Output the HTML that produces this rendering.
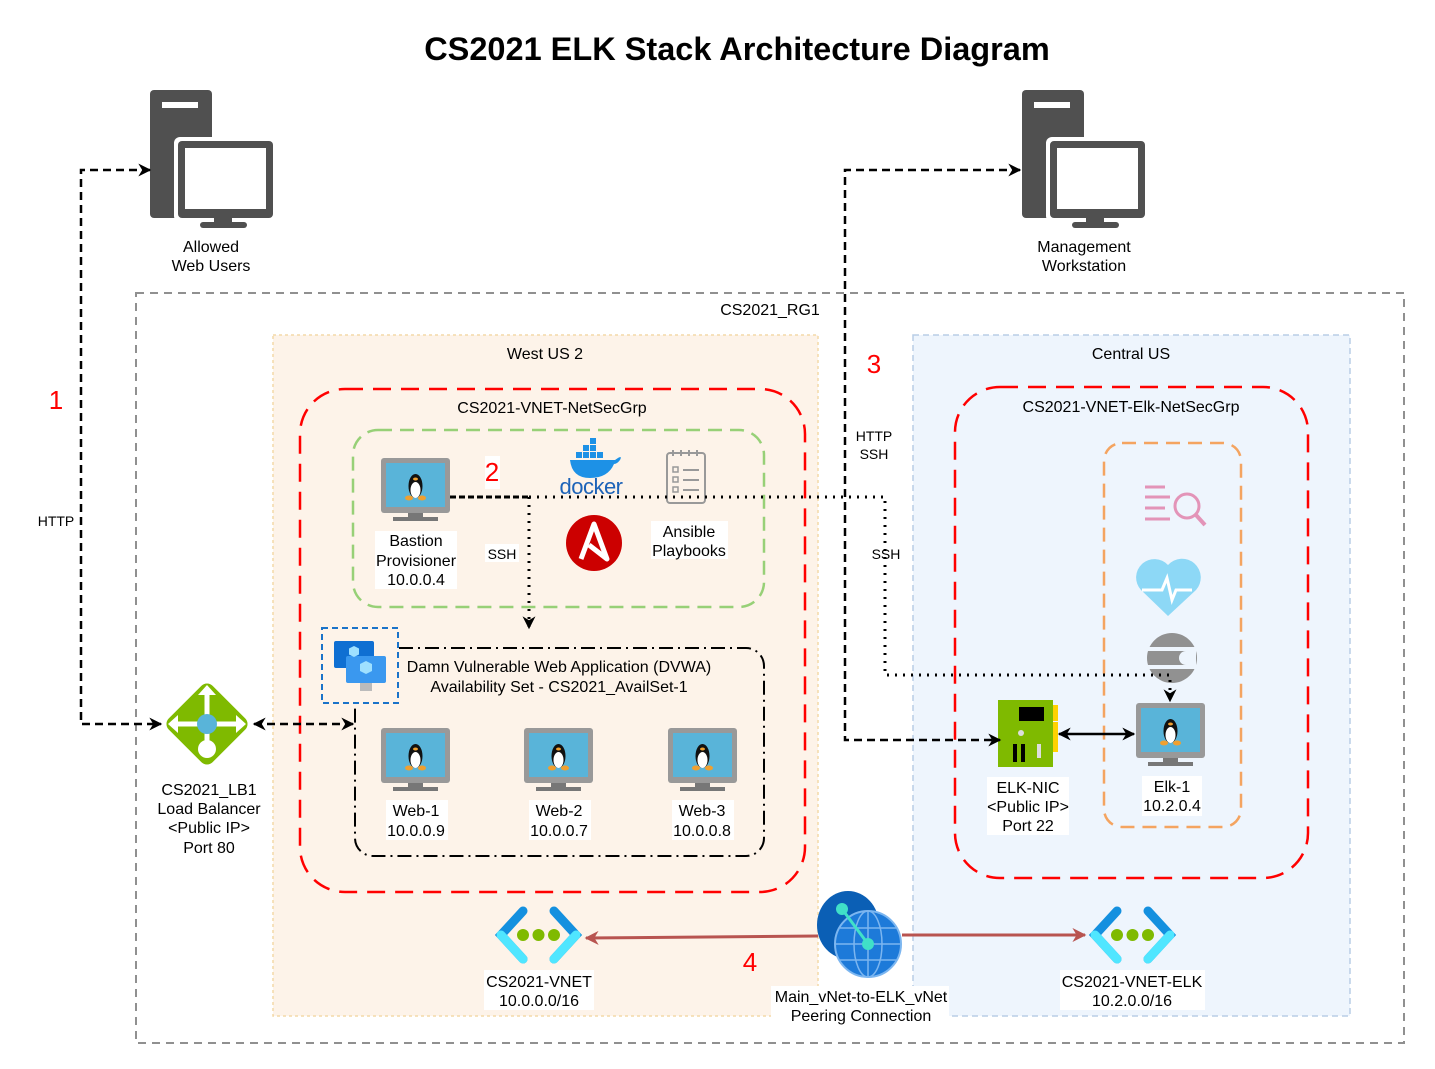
<!DOCTYPE html>
<html><head><meta charset="utf-8"><style>
html,body{margin:0;padding:0;background:#fff;}
svg{display:block;}
text{font-family:"Liberation Sans",Arial,sans-serif;font-size:16px;fill:#000;}
</style></head><body>
<svg width="1435" height="1069" viewBox="0 0 1435 1069" xmlns="http://www.w3.org/2000/svg">
<defs>
<marker id="ah" viewBox="0 0 10 10" refX="9" refY="5" markerWidth="13" markerHeight="13" orient="auto-start-reverse" markerUnits="userSpaceOnUse"><path d="M0,0 L10,5 L0,10 L3,5z" fill="#000"/></marker>
<marker id="ahr" viewBox="0 0 10 10" refX="9" refY="5" markerWidth="14" markerHeight="14" orient="auto" markerUnits="userSpaceOnUse"><path d="M0,0 L10,5 L0,10 L3,5z" fill="#b85450"/></marker>
<g id="server">
<rect x="0" y="0" width="62" height="128" rx="4" fill="#505050"/>
<rect x="12" y="12" width="36" height="6" fill="#fff"/>
<rect x="24" y="47" width="101" height="85" rx="6" fill="#fff"/>
<rect x="28" y="51" width="95" height="77" rx="4" fill="#505050"/>
<rect x="35" y="58" width="81" height="61" fill="#fff"/>
<rect x="64" y="128" width="18" height="8" fill="#505050"/>
<rect x="50" y="132" width="47" height="6" rx="3" fill="#505050"/>
</g>
<g id="lin">
<rect x="0" y="0" width="69" height="55" rx="3" fill="#999"/>
<rect x="5" y="5" width="59" height="44" fill="#59b4d9"/>
<rect x="27" y="55" width="15" height="5" fill="#777"/>
<rect x="12" y="59" width="45" height="4" fill="#777"/>
<ellipse cx="34.5" cy="28" rx="7" ry="12" fill="#111"/>
<ellipse cx="34.5" cy="32" rx="5" ry="8" fill="#fff"/>
<ellipse cx="34.5" cy="21" rx="2.5" ry="1.5" fill="#f0a030"/>
<ellipse cx="28" cy="40" rx="4" ry="2.5" fill="#f0a030"/>
<ellipse cx="41" cy="40" rx="4" ry="2.5" fill="#f0a030"/>
</g>
<g id="vnet">
<path d="M30,4 L8,28 L30,52" stroke="#1490df" stroke-width="9" fill="none" stroke-linecap="round"/>
<path d="M8,28 L30,52" stroke="#50e6ff" stroke-width="9" fill="none" stroke-linecap="round"/>
<path d="M61,4 L83,28 L61,52" stroke="#1490df" stroke-width="9" fill="none" stroke-linecap="round"/>
<path d="M83,28 L61,52" stroke="#50e6ff" stroke-width="9" fill="none" stroke-linecap="round"/>
<circle cx="30" cy="28" r="6" fill="#7fba00"/><circle cx="45.5" cy="28" r="6" fill="#7fba00"/><circle cx="61" cy="28" r="6" fill="#7fba00"/>
</g>
</defs>

<text x="737" y="60" text-anchor="middle" style="font-size:32.5px;font-weight:bold">CS2021 ELK Stack Architecture Diagram</text>

<use href="#server" x="150" y="90"/>
<use href="#server" x="1022" y="90"/>
<text x="211" y="252" text-anchor="middle">Allowed</text>
<text x="211" y="271" text-anchor="middle">Web Users</text>
<text x="1084" y="252" text-anchor="middle">Management</text>
<text x="1084" y="271" text-anchor="middle">Workstation</text>

<rect x="136" y="293" width="1268" height="750" fill="none" stroke="#909090" stroke-width="2" stroke-dasharray="8,6"/>
<text x="770" y="315" text-anchor="middle">CS2021_RG1</text>

<rect x="273" y="335" width="545" height="681" fill="#fdf3e9" stroke="#f4d9a8" stroke-width="1.5" stroke-dasharray="3,3"/>
<text x="545" y="359" text-anchor="middle">West US 2</text>
<rect x="913" y="335" width="437" height="681" fill="#eef5fd" stroke="#b8cde6" stroke-width="1.5" stroke-dasharray="6,4"/>
<text x="1131" y="359" text-anchor="middle">Central US</text>

<rect x="300" y="389" width="505" height="503" rx="45" fill="none" stroke="#f00" stroke-width="2.5" stroke-dasharray="18,10"/>
<text x="552" y="413" text-anchor="middle">CS2021-VNET-NetSecGrp</text>
<rect x="955" y="387" width="353" height="491" rx="45" fill="none" stroke="#f00" stroke-width="2.5" stroke-dasharray="18,10"/>
<text x="1131" y="412" text-anchor="middle">CS2021-VNET-Elk-NetSecGrp</text>

<rect x="353" y="430" width="411" height="177" rx="25" fill="none" stroke="#97d077" stroke-width="2.5" stroke-dasharray="14,8"/>
<rect x="1104" y="443" width="137" height="384" rx="18" fill="none" stroke="#f4a460" stroke-width="2.5" stroke-dasharray="14,8"/>
<rect x="355" y="648" width="409" height="208" rx="18" fill="none" stroke="#000" stroke-width="2" stroke-dasharray="14,5,2,5"/>
<rect x="322" y="628" width="76" height="75" fill="#fdf3e9" stroke="#1a73c9" stroke-width="2" stroke-dasharray="6,4"/>
<rect x="334" y="641" width="40" height="27" rx="2" fill="#0f6fd2"/>
<rect x="346" y="656" width="40" height="27" rx="2" fill="#3a98ef"/>
<rect x="360" y="683" width="12" height="8" fill="#bbb"/>
<path d="M366,661 l6,3 v7 l-6,3 l-6,-3 v-7z" fill="#9ee0ff"/>
<path d="M354,646 l5,2.5 v6 l-5,2.5 l-5,-2.5 v-6z" fill="#9ee0ff"/>

<text x="559" y="672" text-anchor="middle">Damn Vulnerable Web Application (DVWA)</text>
<text x="559" y="692" text-anchor="middle">Availability Set - CS2021_AvailSet-1</text>

<use href="#lin" x="381" y="458"/>
<rect x="375" y="531" width="82" height="58" fill="#fff"/>
<text x="416" y="546" text-anchor="middle">Bastion</text>
<text x="416" y="566" text-anchor="middle">Provisioner</text>
<text x="416" y="585" text-anchor="middle">10.0.0.4</text>
<rect x="485" y="456" width="15" height="33" fill="#fff"/>
<text x="492" y="481" text-anchor="middle" style="font-size:26px;fill:#f00">2</text>

<g fill="#1d91e6">
<path d="M570,460 h45 q8,-6 5,0 q-3,4 -6,4 q-6,14 -24,14 q-18,0 -20,-18z"/>
<rect x="576" y="452" width="6" height="6"/><rect x="583" y="452" width="6" height="6"/><rect x="590" y="452" width="6" height="6"/><rect x="597" y="452" width="6" height="6"/>
<rect x="583" y="445" width="6" height="6"/><rect x="590" y="445" width="6" height="6"/><rect x="590" y="438" width="6" height="6"/>
</g>
<text x="591" y="494" text-anchor="middle" style="font-size:22px;fill:#1d63b8;letter-spacing:-0.5px">docker</text>
<rect x="667" y="453" width="38" height="50" rx="3" fill="none" stroke="#999" stroke-width="2"/>
<g stroke="#999" stroke-width="2"><line x1="673" y1="450" x2="673" y2="456"/><line x1="681" y1="450" x2="681" y2="456"/><line x1="689" y1="450" x2="689" y2="456"/><line x1="697" y1="450" x2="697" y2="456"/>
<line x1="683" y1="470" x2="699" y2="470"/><line x1="683" y1="480" x2="699" y2="480"/><line x1="683" y1="490" x2="699" y2="490"/></g>
<g fill="none" stroke="#999" stroke-width="1.5"><rect x="673" y="467" width="5" height="5"/><rect x="673" y="477" width="5" height="5"/><rect x="673" y="487" width="5" height="5"/></g>
<circle cx="594" cy="543" r="28" fill="#cc0000"/>
<path d="M581,559 L594,524 L607,559 L589,545" fill="none" stroke="#fff" stroke-width="5" stroke-linejoin="round"/>
<rect x="651" y="521" width="77" height="38" fill="#fff"/>
<text x="689" y="537" text-anchor="middle">Ansible</text>
<text x="689" y="556" text-anchor="middle">Playbooks</text>

<use href="#lin" x="381" y="728"/><use href="#lin" x="524" y="728"/><use href="#lin" x="668" y="728"/>
<rect x="386" y="800" width="62" height="40" fill="#fff"/><text x="416" y="816" text-anchor="middle">Web-1</text><text x="416" y="836" text-anchor="middle">10.0.0.9</text>
<rect x="529" y="800" width="62" height="40" fill="#fff"/><text x="559" y="816" text-anchor="middle">Web-2</text><text x="559" y="836" text-anchor="middle">10.0.0.7</text>
<rect x="672" y="800" width="62" height="40" fill="#fff"/><text x="702" y="816" text-anchor="middle">Web-3</text><text x="702" y="836" text-anchor="middle">10.0.0.8</text>

<rect x="176" y="693" width="62" height="62" rx="8" fill="#7fba00" transform="rotate(45 207 724)"/>
<g stroke="#fff" stroke-width="5" fill="none"><line x1="174" y1="724" x2="240" y2="724"/><line x1="207" y1="690" x2="207" y2="745"/></g>
<g fill="#fff"><path d="M168,724 l10,-9 v18z"/><path d="M246,724 l-10,-9 v18z"/><path d="M207,685 l-9,10 h18z"/><circle cx="207" cy="749" r="9"/></g>
<circle cx="207" cy="724" r="10" fill="#59b4d9"/>
<text x="209" y="795" text-anchor="middle">CS2021_LB1</text>
<text x="209" y="814" text-anchor="middle">Load Balancer</text>
<text x="209" y="833" text-anchor="middle">&lt;Public IP&gt;</text>
<text x="209" y="853" text-anchor="middle">Port 80</text>

<g stroke="#e394b8" stroke-width="3" fill="none"><line x1="1145" y1="487" x2="1165" y2="487"/><line x1="1145" y1="497" x2="1170" y2="497"/><line x1="1145" y1="508" x2="1165" y2="508"/><line x1="1145" y1="519" x2="1170" y2="519"/><circle cx="1187" cy="506" r="12"/><line x1="1196" y1="515" x2="1205" y2="525" stroke-width="4"/></g>
<path d="M1168,616 L1141,590 A15,15 0 0 1 1168,565 A15,15 0 0 1 1196,590z" fill="#8dd8f6"/>
<path d="M1142,590 h20 l5,-12 l5,22 l4,-10 h16" stroke="#fff" stroke-width="3" fill="none"/>
<circle cx="1172" cy="658" r="25" fill="#919191"/>
<g stroke="#eef5fd" stroke-width="4"><line x1="1145" y1="649" x2="1200" y2="649"/><line x1="1145" y1="667" x2="1200" y2="667"/></g>
<path d="M1196,651 h-10 a7,7 0 0 0 0,14 h10z" fill="#eef5fd"/>
<use href="#lin" x="1136" y="703"/>
<rect x="1142" y="776" width="60" height="40" fill="#fff"/>
<text x="1172" y="792" text-anchor="middle">Elk-1</text><text x="1172" y="811" text-anchor="middle">10.2.0.4</text>
<rect x="998" y="700" width="55" height="67" fill="#7fba00"/>
<rect x="1053" y="705" width="5" height="16" fill="#ffd200"/><rect x="1053" y="722" width="5" height="30" fill="#ffd200"/>
<rect x="1019" y="707" width="25" height="14" fill="#000"/>
<rect x="1013" y="744" width="4" height="18" fill="#000"/><rect x="1021" y="744" width="4" height="18" fill="#000"/><rect x="1037" y="744" width="4" height="14" fill="#ddd"/>
<circle cx="1021" cy="733" r="3" fill="#ddd"/>
<rect x="987" y="777" width="82" height="58" fill="#fff"/>
<text x="1028" y="793" text-anchor="middle">ELK-NIC</text><text x="1028" y="812" text-anchor="middle">&lt;Public IP&gt;</text><text x="1028" y="831" text-anchor="middle">Port 22</text>

<use href="#vnet" x="493" y="907"/><use href="#vnet" x="1087" y="907"/>
<rect x="484" y="970" width="110" height="40" fill="#fff"/>
<text x="539" y="987" text-anchor="middle">CS2021-VNET</text><text x="539" y="1006" text-anchor="middle">10.0.0.0/16</text>
<rect x="1060" y="970" width="145" height="40" fill="#fff"/>
<text x="1132" y="987" text-anchor="middle">CS2021-VNET-ELK</text><text x="1132" y="1006" text-anchor="middle">10.2.0.0/16</text>

<line x1="818" y1="936" x2="586" y2="938" stroke="#b85450" stroke-width="3" marker-end="url(#ahr)"/>
<line x1="902" y1="935" x2="1085" y2="935" stroke="#b85450" stroke-width="3" marker-end="url(#ahr)"/>
<ellipse cx="848" cy="925" rx="31" ry="34" fill="#0b5fb5"/>
<circle cx="868" cy="944" r="33" fill="#1d7ad9" stroke="#7cb6f0" stroke-width="2"/>
<g stroke="#7cb6f0" stroke-width="1.5" fill="none"><ellipse cx="868" cy="944" rx="14" ry="33"/><line x1="868" y1="911" x2="868" y2="977"/><line x1="835" y1="944" x2="901" y2="944"/><line x1="840" y1="928" x2="896" y2="928"/><line x1="840" y1="960" x2="896" y2="960"/></g>
<line x1="842" y1="909" x2="868" y2="944" stroke="#40e0c8" stroke-width="3"/>
<circle cx="842" cy="909" r="6" fill="#40e0c8"/><circle cx="868" cy="944" r="6" fill="#40e0c8"/>
<rect x="771" y="986" width="178" height="40" fill="#fff"/>
<text x="861" y="1002" text-anchor="middle">Main_vNet-to-ELK_vNet</text><text x="861" y="1021" text-anchor="middle">Peering Connection</text>
<text x="750" y="971" text-anchor="middle" style="font-size:26px;fill:#f00">4</text>

<polyline points="150,170 81,170 81,724 161,724" fill="none" stroke="#000" stroke-width="2.5" stroke-dasharray="8,5" marker-start="url(#ah)" marker-end="url(#ah)"/>
<line x1="254" y1="724" x2="353" y2="724" stroke="#000" stroke-width="2.5" stroke-dasharray="8,5" marker-start="url(#ah)" marker-end="url(#ah)"/>
<text x="56" y="409" text-anchor="middle" style="font-size:26px;fill:#f00">1</text>
<rect x="36" y="511" width="42" height="18" fill="#fff"/>
<text x="56" y="526" text-anchor="middle" style="font-size:14px">HTTP</text>

<polyline points="1020,170 845,170 845,740 1000,740" fill="none" stroke="#000" stroke-width="2.5" stroke-dasharray="8,5" marker-start="url(#ah)" marker-end="url(#ah)"/>
<text x="874" y="373" text-anchor="middle" style="font-size:26px;fill:#f00">3</text>
<text x="874" y="441" text-anchor="middle" style="font-size:14px">HTTP</text>
<text x="874" y="459" text-anchor="middle" style="font-size:14px">SSH</text>

<line x1="450" y1="497" x2="529" y2="497" stroke="#000" stroke-width="3" stroke-dasharray="6,3"/>
<polyline points="529,497 885,497 885,675 1170,675 1170,701" fill="none" stroke="#000" stroke-width="3" stroke-dasharray="2,6" marker-end="url(#ah)"/>
<line x1="529" y1="497" x2="529" y2="628" stroke="#000" stroke-width="3" stroke-dasharray="2,6" marker-end="url(#ah)"/>
<rect x="485" y="544" width="34" height="18" fill="#fff"/>
<text x="502" y="559" text-anchor="middle" style="font-size:14px">SSH</text>
<text x="886" y="559" text-anchor="middle" style="font-size:14px">SSH</text>

<line x1="1059" y1="734" x2="1134" y2="734" stroke="#000" stroke-width="2.5" marker-start="url(#ah)" marker-end="url(#ah)"/>
</svg>
</body></html>
